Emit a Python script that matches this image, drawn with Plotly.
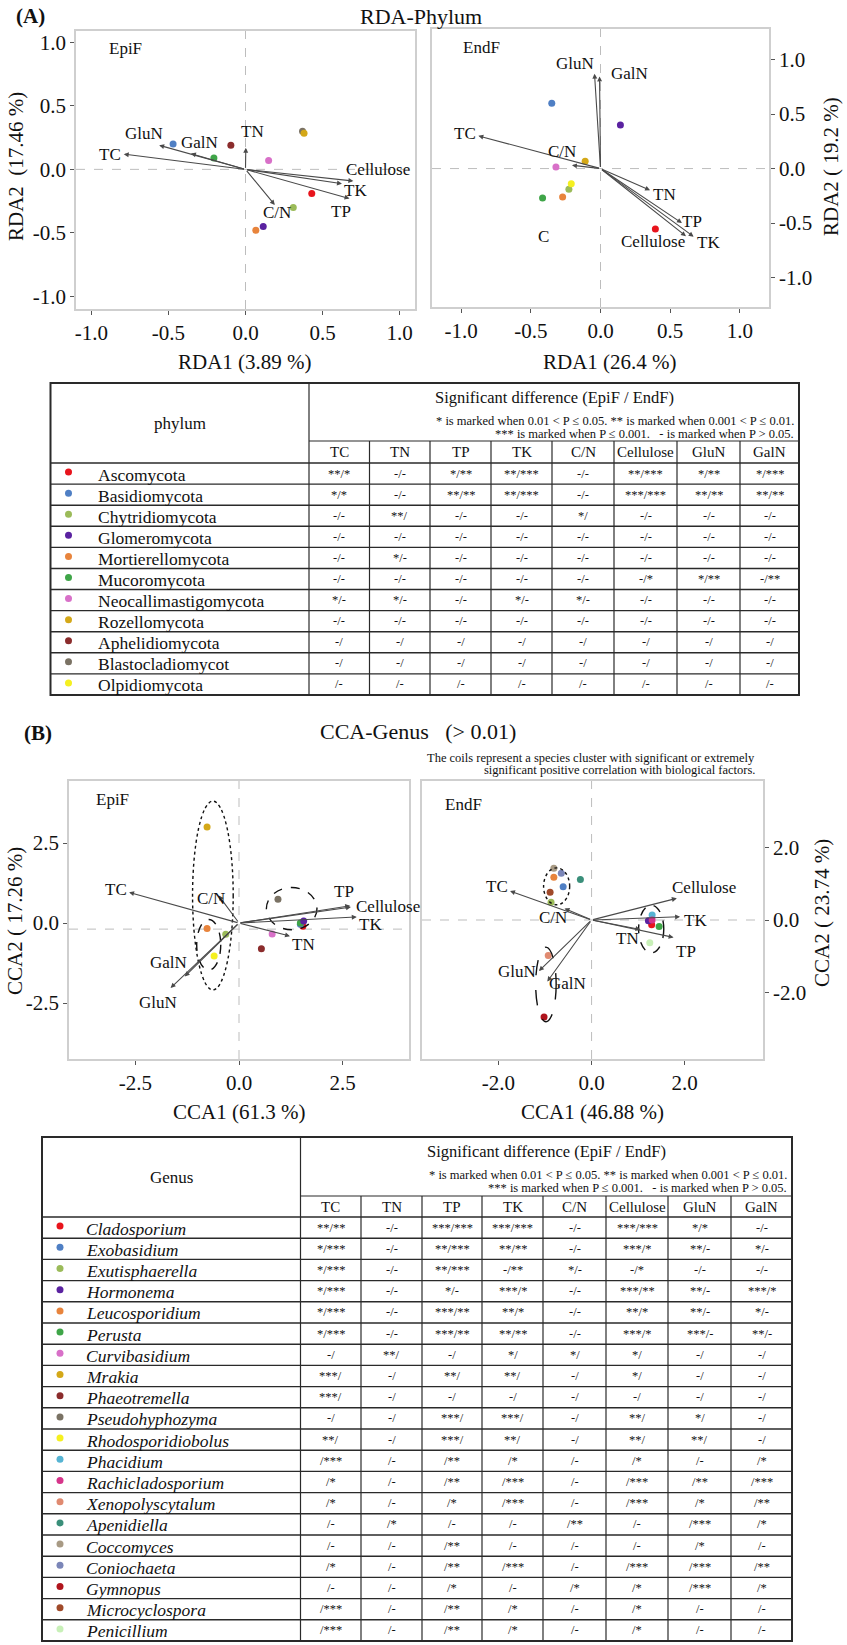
import plotly.graph_objects as go

W, H = 847, 1645
FONT = "Liberation Serif"

# ------------------------------------------------------------------ data
env_vars = ["TC", "TN", "TP", "TK", "C/N", "Cellulose", "GluN", "GalN"]

phyla = ["Ascomycota", "Basidiomycota", "Chytridiomycota", "Glomeromycota",
         "Mortierellomycota", "Mucoromycota", "Neocallimastigomycota",
         "Rozellomycota", "Aphelidiomycota", "Blastocladiomycot", "Olpidiomycota"]
phylum_colors = ["#e8141c", "#4f7fc4", "#9bbb59", "#5a22a0", "#e8843c", "#3fa548",
                 "#d870c8", "#d4a818", "#8b2c2c", "#7a7264", "#f5f020"]

genera = ["Cladosporium", "Exobasidium", "Exutisphaerella", "Hormonema", "Leucosporidium",
          "Perusta", "Curvibasidium", "Mrakia", "Phaeotremella", "Pseudohyphozyma",
          "Rhodosporidiobolus", "Phacidium", "Rachicladosporium", "Xenopolyscytalum",
          "Apenidiella", "Coccomyces", "Coniochaeta", "Gymnopus", "Microcyclospora",
          "Penicillium"]
genus_colors = ["#e8141c", "#4f7fc4", "#9bbb59", "#5a22a0", "#e8843c", "#3fa548",
                "#d870c8", "#d4a818", "#8b2c2c", "#7a7264", "#f5f020", "#56b4d3",
                "#d6348a", "#e08a70", "#3a8f7a", "#a89a84", "#7b86b8", "#b0151d",
                "#a04a2a", "#c8f0b8"]

# RDA (phylum) - EpiF species scores
rda_epi_taxa = ["Ascomycota", "Basidiomycota", "Chytridiomycota", "Glomeromycota",
                "Mortierellomycota", "Mucoromycota", "Neocallimastigomycota",
                "Aphelidiomycota", "Blastocladiomycot", "Rozellomycota"]
rda_epi_x = [0.43, -0.47, 0.31, 0.115, 0.067, -0.205, 0.15, -0.095, 0.37, 0.38]
rda_epi_y = [-0.19, 0.20, -0.30, -0.45, -0.48, 0.09, 0.07, 0.19, 0.30, 0.285]
rda_epi_env_x = [-0.79, 0.002, 0.675, 0.626, 0.19, 0.70, -0.56, -0.354]
rda_epi_env_y = [0.12, 0.17, -0.23, -0.113, -0.28, -0.092, 0.19, 0.124]

# RDA (phylum) - EndF
rda_end_taxa = ["Ascomycota", "Basidiomycota", "Chytridiomycota", "Glomeromycota",
                "Mortierellomycota", "Mucoromycota", "Neocallimastigomycota",
                "Rozellomycota", "Olpidiomycota"]
rda_end_x = [0.394, -0.35, -0.227, 0.143, -0.272, -0.416, -0.32, -0.11, -0.21]
rda_end_y = [-0.555, 0.60, -0.19, 0.40, -0.26, -0.27, 0.015, 0.067, -0.14]
rda_end_env_x = [-0.877, 0.356, 0.585, 0.669, -0.205, 0.614, -0.043, -0.007]
rda_end_env_y = [0.30, -0.20, -0.50, -0.625, 0.03, -0.62, 0.87, 0.845]

# CCA (genus) - EpiF
cca_epi_taxa = ["Cladosporium", "Exobasidium", "Exutisphaerella", "Perusta", "Hormonema",
                "Leucosporidium", "Curvibasidium", "Mrakia", "Phaeotremella",
                "Pseudohyphozyma", "Rhodosporidiobolus"]
cca_epi_x = [1.54, 1.48, -0.32, 1.48, 1.56, -0.77, 0.80, -0.77, 0.54, 0.94, -0.60]
cca_epi_y = [-0.10, -0.04, -0.35, 0.0, 0.06, -0.17, -0.34, 3.0, -0.80, 0.74, -1.03]
cca_epi_env_x = [-2.65, 1.23, 2.68, 2.84, -0.49, 2.70, -1.65, -1.31]
cca_epi_env_y = [0.96, -0.41, 0.54, 0.19, 0.86, 0.50, -2.03, -1.67]

# CCA (genus) - EndF
cca_end_taxa = ["Cladosporium", "Exobasidium", "Exutisphaerella", "Hormonema",
                "Leucosporidium", "Perusta", "Phacidium", "Rachicladosporium",
                "Xenopolyscytalum", "Apenidiella", "Coccomyces", "Coniochaeta",
                "Gymnopus", "Microcyclospora", "Penicillium"]
cca_end_x = [1.29, -0.61, -0.87, 1.22, -0.81, 1.45, 1.30, 1.30, -0.93, -0.24, -0.81,
             -0.65, -1.02, -0.89, 1.25]
cca_end_y = [-0.13, 0.92, 0.49, -0.02, 1.18, -0.18, 0.14, 0.0, -0.98, 1.12, 1.43,
             1.29, -2.68, 0.77, -0.63]
cca_end_env_x = [-1.75, 1.05, 1.76, 1.90, -0.58, 1.83, -1.13, -0.95]
cca_end_env_y = [0.80, -0.26, -0.48, 0.09, 0.32, 0.60, -1.41, -1.70]

# significance tables (EpiF / EndF)
phylum_sig = [
    ["**/*", "-/-", "*/**", "**/***", "-/-", "**/***", "*/**", "*/***"],
    ["*/*", "-/-", "**/**", "**/***", "-/-", "***/***", "**/**", "**/**"],
    ["-/-", "**/", "-/-", "-/-", "*/", "-/-", "-/-", "-/-"],
    ["-/-", "-/-", "-/-", "-/-", "-/-", "-/-", "-/-", "-/-"],
    ["-/-", "*/-", "-/-", "-/-", "-/-", "-/-", "-/-", "-/-"],
    ["-/-", "-/-", "-/-", "-/-", "-/-", "-/*", "*/**", "-/**"],
    ["*/-", "*/-", "-/-", "*/-", "*/-", "-/-", "-/-", "-/-"],
    ["-/-", "-/-", "-/-", "-/-", "-/-", "-/-", "-/-", "-/-"],
    ["-/", "-/", "-/", "-/", "-/", "-/", "-/", "-/"],
    ["-/", "-/", "-/", "-/", "-/", "-/", "-/", "-/"],
    ["/-", "/-", "/-", "/-", "/-", "/-", "/-", "/-"],
]
genus_sig = [
    ["**/**", "-/-", "***/***", "***/***", "-/-", "***/***", "*/*", "-/-"],
    ["*/***", "-/-", "**/***", "**/**", "-/-", "***/*", "**/-", "*/-"],
    ["*/***", "-/-", "**/***", "-/**", "*/-", "-/*", "-/-", "-/-"],
    ["*/***", "-/-", "*/-", "***/*", "-/-", "***/**", "**/-", "***/*"],
    ["*/***", "-/-", "***/**", "**/*", "-/-", "**/*", "**/-", "*/-"],
    ["*/***", "-/-", "***/**", "**/**", "-/-", "***/*", "***/-", "**/-"],
    ["-/", "**/", "-/", "*/", "*/", "*/", "-/", "-/"],
    ["***/", "-/", "**/", "**/", "-/", "*/", "-/", "-/"],
    ["***/", "-/", "-/", "-/", "-/", "-/", "-/", "-/"],
    ["-/", "-/", "***/", "***/", "-/", "**/", "*/", "-/"],
    ["**/", "-/", "***/", "**/", "-/", "**/", "**/", "-/"],
    ["/***", "/-", "/**", "/*", "/-", "/*", "/-", "/*"],
    ["/*", "/-", "/**", "/***", "/-", "/***", "/**", "/***"],
    ["/*", "/-", "/*", "/***", "/-", "/***", "/*", "/**"],
    ["/-", "/*", "/-", "/-", "/**", "/-", "/***", "/*"],
    ["/-", "/-", "/**", "/-", "/-", "/-", "/*", "/-"],
    ["/*", "/-", "/**", "/***", "/-", "/***", "/***", "/**"],
    ["/-", "/-", "/*", "/-", "/*", "/*", "/***", "/*"],
    ["/***", "/-", "/**", "/*", "/-", "/*", "/-", "/-"],
    ["/***", "/-", "/**", "/*", "/-", "/*", "/-", "/-"],
]

rda_ticks = [-1.0, -0.5, 0.0, 0.5, 1.0]
rda_ticktext = ["-1.0", "-0.5", "0.0", "0.5", "1.0"]
cca_epi_ticks = [-2.5, 0.0, 2.5]
cca_epi_ticktext = ["-2.5", "0.0", "2.5"]
cca_end_ticks = [-2.0, 0.0, 2.0]
cca_end_ticktext = ["-2.0", "0.0", "2.0"]

# ------------------------------------------------------------------ layout constants
# label positions for environmental arrows (data units of each panel)
lab_rda_epi = {"TC": (-0.88, 0.12), "TN": (0.043, 0.30), "TP": (0.62, -0.33),
               "TK": (0.714, -0.17), "C/N": (0.207, -0.34), "Cellulose": (0.86, 0.0),
               "GluN": (-0.66, 0.28), "GalN": (-0.30, 0.21)}
lab_rda_end = {"TC": (-0.975, 0.32), "TN": (0.46, -0.24), "TP": (0.66, -0.49),
               "TK": (0.777, -0.68), "C/N": (-0.28, 0.16), "Cellulose": (0.38, -0.67),
               "GluN": (-0.18, 0.96), "GalN": (0.21, 0.87)}
lab_cca_epi = {"TC": (-2.97, 1.05), "TN": (1.55, -0.67), "TP": (2.54, 0.98),
               "TK": (3.16, -0.05), "C/N": (-0.67, 0.77), "Cellulose": (3.6, 0.52),
               "GluN": (-1.96, -2.48), "GalN": (-1.70, -1.24)}
lab_cca_end = {"TC": (-2.04, 0.92), "TN": (0.77, -0.50), "TP": (2.03, -0.86),
               "TK": (2.24, 0.0), "C/N": (-0.83, 0.06), "Cellulose": (2.41, 0.90),
               "GluN": (-1.61, -1.43), "GalN": (-0.51, -1.75)}

# cluster ellipses: centre x, centre y, half-width, half-height, dash
ell_cca_epi = [(-0.63, 0.86, 0.49, 2.95, "dot"), (-0.73, -0.68, 0.29, 0.79, "dash"),
               (1.27, 0.45, 0.61, 0.66, "dash")]
ell_cca_end = [(-0.75, 0.93, 0.28, 0.51, "dot"), (1.28, -0.25, 0.27, 0.66, "dash"),
               (-0.98, -1.78, 0.22, 1.03, "longdash")]


def dom_x(a, b):
    return [a / W, b / W]


def dom_y(top, bottom):
    return [1 - bottom / H, 1 - top / H]


panels = [
    dict(ax="", dx=dom_x(76, 415), dy=dom_y(31, 309), xr=[-1.1, 1.1], yr=[-1.1, 1.09],
         tv=rda_ticks, tt=rda_ticktext, side="left", taxa=rda_epi_taxa, px=rda_epi_x,
         py=rda_epi_y, names=phyla, cols=phylum_colors, ex=rda_epi_env_x, ey=rda_epi_env_y,
         lab=lab_rda_epi, tag="EpiF", tagpos=(-0.9, 0.95), h0=0.0, ell=[]),
    dict(ax="2", dx=dom_x(432, 769), dy=dom_y(29, 307), xr=[-1.21, 1.21], yr=[-1.27, 1.28],
         tv=rda_ticks, tt=rda_ticktext, side="right", taxa=rda_end_taxa, px=rda_end_x,
         py=rda_end_y, names=phyla, cols=phylum_colors, ex=rda_end_env_x, ey=rda_end_env_y,
         lab=lab_rda_end, tag="EndF", tagpos=(-1.0, 1.11), h0=0.0, ell=[]),
    dict(ax="3", dx=dom_x(69, 409), dy=dom_y(781, 1059), xr=[-4.1, 4.1], yr=[-4.25, 4.44],
         tv=cca_epi_ticks, tt=cca_epi_ticktext, side="left", taxa=cca_epi_taxa, px=cca_epi_x,
         py=cca_epi_y, names=genera, cols=genus_colors, ex=cca_epi_env_x, ey=cca_epi_env_y,
         lab=lab_cca_epi, tag="EpiF", tagpos=(-3.5, 3.85), h0=-0.19, ell=ell_cca_epi),
    dict(ax="4", dx=dom_x(422, 763), dy=dom_y(781, 1059), xr=[-3.64, 3.68], yr=[-3.84, 3.84],
         tv=cca_end_ticks, tt=cca_end_ticktext, side="right", taxa=cca_end_taxa, px=cca_end_x,
         py=cca_end_y, names=genera, cols=genus_colors, ex=cca_end_env_x, ey=cca_end_env_y,
         lab=lab_cca_end, tag="EndF", tagpos=(-3.2, 3.2), h0=0.0, ell=ell_cca_end),
]

fig = go.Figure()
shapes = []
annotations = []
layout_axes = {}

ARROW_C = "#4a4a4a"
TXT = dict(family=FONT, size=17, color="#111")

for p in panels:
    xa, ya = "x" + p["ax"], "y" + p["ax"]
    cmap = dict(zip(p["names"], p["cols"]))
    fig.add_trace(go.Scatter(
        x=p["px"], y=p["py"], mode="markers", xaxis=xa, yaxis=ya,
        marker=dict(size=7, color=[cmap[t] for t in p["taxa"]], line=dict(width=0)),
        text=p["taxa"], hoverinfo="text", showlegend=False, cliponaxis=False))
    # reference lines
    shapes.append(dict(type="line", xref=xa, yref=ya, x0=0, x1=0, y0=p["yr"][0], y1=p["yr"][1],
                       line=dict(color="#bdbdbd", width=1, dash="dash"), layer="below"))
    shapes.append(dict(type="line", xref=xa, yref=ya, x0=p["xr"][0], x1=p["xr"][1],
                       y0=p["h0"], y1=p["h0"],
                       line=dict(color="#bdbdbd", width=1, dash="dash"), layer="below"))
    for (cx, cy, a, b, d) in p["ell"]:
        shapes.append(dict(type="circle", xref=xa, yref=ya, x0=cx - a, x1=cx + a,
                           y0=cy - b, y1=cy + b, line=dict(color="#111", width=1.4, dash=d)))
    # environmental arrows
    for v, exv, eyv in zip(env_vars, p["ex"], p["ey"]):
        annotations.append(dict(x=exv, y=eyv, ax=0, ay=0, xref=xa, yref=ya, axref=xa,
                                ayref=ya, showarrow=True, arrowhead=2, arrowsize=0.9,
                                arrowwidth=1.1, arrowcolor=ARROW_C, text=""))
        lx, ly = p["lab"][v]
        annotations.append(dict(x=lx, y=ly, xref=xa, yref=ya, text=v, showarrow=False,
                                font=TXT))
    annotations.append(dict(x=p["tagpos"][0], y=p["tagpos"][1], xref=xa, yref=ya,
                            text=p["tag"], showarrow=False, xanchor="left", font=TXT))
    axis_common = dict(showgrid=False, zeroline=False, showline=True, mirror=True,
                       linecolor="#cfcfcf", linewidth=1.5, ticks="outside", ticklen=4,
                       tickcolor="#555", tickfont=dict(family=FONT, size=21, color="#111"),
                       fixedrange=True)
    layout_axes["xaxis" + p["ax"]] = dict(domain=p["dx"], range=p["xr"], anchor=ya,
                                          tickvals=p["tv"], ticktext=p["tt"], **axis_common)
    layout_axes["yaxis" + p["ax"]] = dict(domain=p["dy"], range=p["yr"], anchor=xa,
                                          side=p["side"], tickvals=p["tv"], ticktext=p["tt"],
                                          **axis_common)

# rda extra stray label "C" in EndF
annotations.append(dict(x=-0.41, y=-0.62, xref="x2", yref="y2", text="C",
                        showarrow=False, font=TXT))

# overlay pixel axis for headings and tables
layout_axes["xaxis5"] = dict(domain=[0, 1], range=[0, W], anchor="y5", visible=False,
                             fixedrange=True)
layout_axes["yaxis5"] = dict(domain=[0, 1], range=[H, 0], anchor="x5", visible=False,
                             fixedrange=True)


def pt(x, y, text, size, xanchor="center", angle=0, bold=False):
    if bold:
        text = "<b>" + text + "</b>"
    annotations.append(dict(x=x, y=y, xref="x5", yref="y5", text=text, showarrow=False,
                            xanchor=xanchor, yanchor="middle", textangle=angle,
                            font=dict(family=FONT, size=size, color="#111")))


NB = "\u00a0"
# headings
pt(14, 16, "(A)", 21, xanchor="left", bold=True)
pt(421, 16, "RDA-Phylum", 22)
pt(22, 733, "(B)", 21, xanchor="left", bold=True)
pt(418, 731, "CCA-Genus" + NB * 3 + "(&gt; 0.01)", 22)
pt(757, 758, "The coils represent a species cluster with significant or extremely", 12.5,
   xanchor="right")
pt(757, 770, "significant positive correlation with biological factors.", 12.5,
   xanchor="right")
# axis titles
pt(245, 362, "RDA1 (3.89 %)", 21)
pt(610, 362, "RDA1 (26.4 %)", 21)
pt(16, 167, "RDA2" + NB * 2 + "(17.46 %)", 21, angle=-90)
pt(831, 167, "RDA2" + NB + "(" + NB + "19.2 %)", 21, angle=-90)
pt(15, 921, "CCA2" + NB + "(" + NB + "17.26 %)", 21, angle=-90)
pt(822, 913, "CCA2" + NB + "(" + NB + "23.74 %)", 21, angle=-90)
pt(239, 1112, "CCA1 (61.3 %)", 21)
pt(592, 1112, "CCA1 (46.88 %)", 21)

NOTE1 = "* is marked when 0.01 &lt; P ≤ 0.05. ** is marked when 0.001 &lt; P ≤ 0.01."
NOTE2 = "*** is marked when P ≤ 0.001." + NB * 3 + "- is marked when P &gt; 0.05."
LINE = "#2a2a2a"


def line(x0, y0, x1, y1, w=1.2):
    shapes.append(dict(type="line", xref="x5", yref="y5", x0=x0, y0=y0, x1=x1, y1=y1,
                       line=dict(color=LINE, width=w)))


def draw_table(xb, top, split, colhdr, row_h, head, names, colors, sig, italic):
    n = len(names)
    bottom = colhdr + n * row_h
    shapes.append(dict(type="rect", xref="x5", yref="y5", x0=xb[0], x1=xb[-1], y0=top,
                       y1=bottom, line=dict(color=LINE, width=2)))
    line(xb[1], top, xb[1], bottom)
    line(xb[1], split, xb[-1], split)
    line(xb[0], colhdr, xb[-1], colhdr, 1.6)
    for i in range(1, n):
        line(xb[0], colhdr + i * row_h, xb[-1], colhdr + i * row_h, 1.4)
    for xv in xb[2:-1]:
        line(xv, split, xv, bottom)
    pt((xb[0] + xb[1]) / 2, (top + colhdr) / 2, head, 17)
    pt((xb[1] + xb[-1]) / 2, top + 14, "Significant difference (EpiF / EndF)", 16.5)
    pt(xb[-1] - 3, top + 38, NOTE1, 12.5, xanchor="right")
    pt(xb[-1] - 3, top + 51, NOTE2, 12.5, xanchor="right")
    for j, v in enumerate(env_vars):
        pt((xb[j + 1] + xb[j + 2]) / 2, (split + colhdr) / 2, v, 15)
    ys = [colhdr + (i + 0.5) * row_h for i in range(n)]
    fig.add_trace(go.Scatter(x=[xb[0] + 18] * n, y=[y - 1.5 for y in ys], mode="markers",
                             xaxis="x5", yaxis="y5", marker=dict(size=7, color=colors),
                             text=names, hoverinfo="text", showlegend=False,
                             cliponaxis=False))
    for i, nm in enumerate(names):
        txt = "<i>" + nm + "</i>" if italic else nm
        pt(xb[0] + (42 if italic else 45), ys[i] + 1, txt, 17.5, xanchor="left")
        for j, s in enumerate(sig[i]):
            pt((xb[j + 1] + xb[j + 2]) / 2, ys[i], s, 12.5)


draw_table([50.5, 309, 369.5, 430, 491, 552, 614, 677, 740, 799], 383, 441, 463,
           (695 - 463) / 11, "phylum", phyla, phylum_colors, phylum_sig, False)
draw_table([42, 300.5, 361, 422, 482, 543, 606, 668, 731, 792], 1137, 1196, 1217,
           (1641 - 1217) / 20, "Genus", genera, genus_colors, genus_sig, True)

fig.update_layout(width=W, height=H, margin=dict(l=0, r=0, t=0, b=0),
                  paper_bgcolor="white", plot_bgcolor="rgba(0,0,0,0)", showlegend=False,
                  shapes=shapes, annotations=annotations, **layout_axes)
fig.write_html("out.html", config={"displayModeBar": False},
               post_script="document.body.style.margin='0';"
                           "document.body.style.overflow='hidden';")
